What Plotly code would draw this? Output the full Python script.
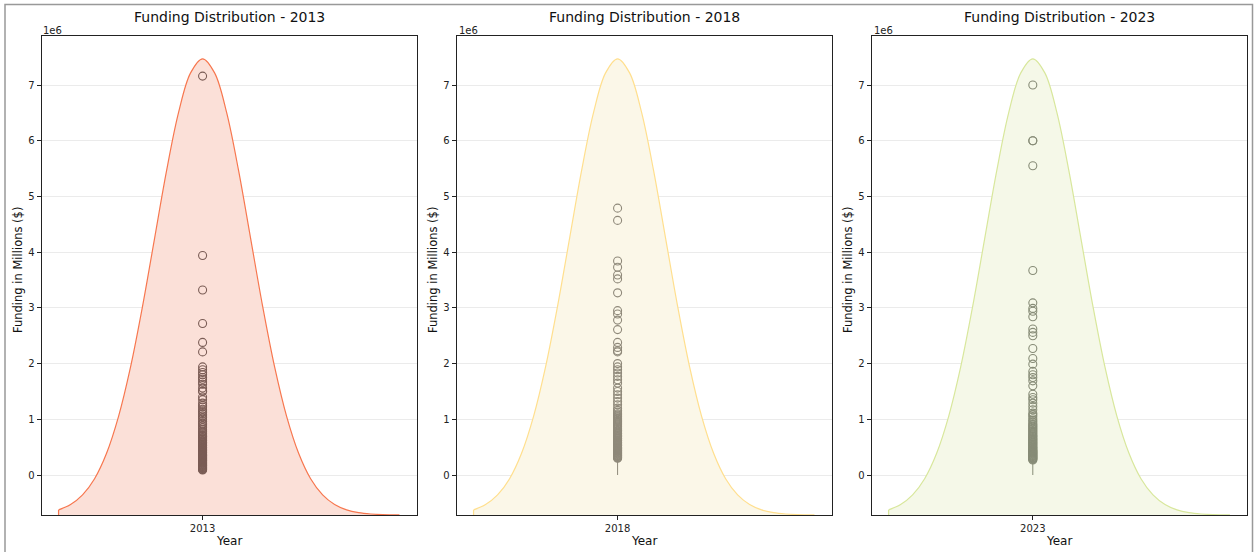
import plotly.graph_objects as go

# ---------------- data ----------------
years = ["2013", "2018", "2023"]

# bell curve (x in curve units, tick at 0; y in $)
curve_x = [-3.0, -2.75, -2.5, -2.25, -2.0, -1.75, -1.5, -1.25, -1.0, -0.75, -0.5, -0.25, 0.0,
           0.25, 0.5, 0.75, 1.0, 1.25, 1.5, 1.75, 2.0, 2.25, 2.5, 2.75, 3.0, 3.25, 3.5, 3.75, 4.1]
curve_y = [-627000, -531000, -358000, -67000, 390000, 1053000, 1940000, 3031000, 4248000,
           5463000, 6508000, 7218000, 7470000, 7218000, 6508000, 5463000, 4248000, 3031000, 1940000,
           1053000, 390000, -67000, -358000, -531000, -627000, -676000, -700000, -711000, -716000]
baseline = -718000

outliers_2013 = [0.09, 0.10, 0.11, 0.12, 0.13, 0.14, 0.15, 0.16, 0.17, 0.18, 0.19, 0.20, 0.21, 0.22,
                 0.23, 0.24, 0.25, 0.26, 0.27, 0.28, 0.29, 0.30, 0.31, 0.32, 0.33, 0.34, 0.35, 0.36,
                 0.37, 0.38, 0.40, 0.41, 0.42, 0.44, 0.45, 0.46, 0.48, 0.49, 0.50, 0.52, 0.53, 0.55,
                 0.56, 0.58, 0.59, 0.61, 0.62, 0.64, 0.65, 0.67, 0.69, 0.70, 0.72, 0.74, 0.77, 0.79,
                 0.82, 0.85, 0.88, 0.91, 0.93, 0.96, 1.00, 1.03, 1.06, 1.09, 1.12, 1.15, 1.18, 1.22,
                 1.25, 1.29, 1.35, 1.40, 1.50, 1.51, 1.56, 1.63, 1.67, 1.72, 1.75, 1.80, 1.84, 1.89,
                 1.94, 2.21, 2.38, 2.72, 3.32, 3.94, 7.16]
outliers_2018 = [0.30, 0.31, 0.32, 0.33, 0.34, 0.35, 0.36, 0.37, 0.38, 0.39, 0.40, 0.41, 0.42, 0.43,
                 0.44, 0.45, 0.46, 0.47, 0.48, 0.49, 0.50, 0.52, 0.53, 0.54, 0.55, 0.57, 0.58, 0.59,
                 0.61, 0.62, 0.63, 0.65, 0.66, 0.68, 0.69, 0.71, 0.72, 0.74, 0.75, 0.77, 0.79, 0.80,
                 0.82, 0.84, 0.86, 0.88, 0.90, 0.92, 0.94, 0.96, 0.98, 1.00, 1.02, 1.04, 1.06, 1.08,
                 1.10, 1.13, 1.16, 1.20, 1.26, 1.32, 1.38, 1.44, 1.50, 1.56, 1.65, 1.71, 1.77, 1.83,
                 1.89, 1.94, 2.00, 2.21, 2.23, 2.29, 2.38, 2.61, 2.78, 2.89, 2.95, 3.27, 3.52, 3.59,
                 3.73, 3.84, 4.57, 4.79]
outliers_2023 = [0.27, 0.28, 0.29, 0.30, 0.31, 0.32, 0.33, 0.34, 0.35, 0.36, 0.37, 0.38, 0.39, 0.40,
                 0.41, 0.42, 0.43, 0.44, 0.45, 0.46, 0.48, 0.49, 0.50, 0.52, 0.53, 0.55, 0.56, 0.58,
                 0.59, 0.61, 0.62, 0.64, 0.65, 0.67, 0.69, 0.70, 0.72, 0.74, 0.76, 0.78, 0.80, 0.82,
                 0.84, 0.86, 0.88, 0.90, 0.92, 0.95, 0.98, 1.01, 1.05, 1.08, 1.11, 1.17, 1.23, 1.29,
                 1.35, 1.39, 1.45, 1.60, 1.69, 1.75, 1.80, 1.86, 1.99, 2.09, 2.27, 2.50, 2.56, 2.62,
                 2.84, 2.94, 2.99, 3.09, 3.67, 5.55, 6.00, 6.00, 7.00]
outliers = [outliers_2013, outliers_2018, outliers_2023]
whisker_low = [0.02, 0.0, 0.0]
whisker_high = [0.09, 0.29, 0.26]

line_colors = ["#F7774F", "#FFDF8E", "#D8E79C"]
fill_colors = ["#FBE0D8", "#FBF7E8", "#F5F8E8"]
marker_colors = ["#7A5C55", "#8F897A", "#878C77"]

y_ticks = [0, 1, 2, 3, 4, 5, 6, 7]
y_tick_text = ["0", "1", "2", "3", "4", "5", "6", "7"]

# ---------------- figure ----------------
W, H = 1255, 552
x_domains = [(41.5, 416.5), (456.5, 831.5), (871.5, 1247.0)]
y_top, y_bot = 36, 515
FONT = "DejaVu Sans"

fig = go.Figure()
annotations = []
for i, yr in enumerate(years):
    sfx = "" if i == 0 else str(i + 1)
    xa, ya = "x" + sfx, "y" + sfx
    # baseline for filling
    fig.add_trace(go.Scatter(x=[curve_x[0], curve_x[-1]], y=[baseline, baseline], mode="lines",
                             line=dict(width=0, color=line_colors[i]), xaxis=xa, yaxis=ya,
                             showlegend=False, hoverinfo="skip"))
    fig.add_trace(go.Scatter(x=curve_x, y=curve_y, mode="lines", fill="tonexty",
                             fillcolor=fill_colors[i],
                             line=dict(color=line_colors[i], width=1.2, shape="spline", smoothing=1.0),
                             xaxis=xa, yaxis=ya, showlegend=False))
    # left edge of the filled area
    fig.add_trace(go.Scatter(x=[curve_x[0], curve_x[0]], y=[baseline, curve_y[0]], mode="lines",
                             line=dict(color=line_colors[i], width=1.2), xaxis=xa, yaxis=ya,
                             showlegend=False, hoverinfo="skip"))
    # whisker
    fig.add_trace(go.Scatter(x=[0, 0], y=[whisker_low[i] * 1e6, whisker_high[i] * 1e6], mode="lines",
                             line=dict(color=marker_colors[i], width=1), xaxis=xa, yaxis=ya,
                             showlegend=False))
    # outliers
    fig.add_trace(go.Scatter(x=[0] * len(outliers[i]), y=[v * 1e6 for v in outliers[i]], mode="markers",
                             marker=dict(symbol="circle-open", size=8, color=marker_colors[i],
                                         line=dict(width=1.1, color=marker_colors[i])),
                             xaxis=xa, yaxis=ya, showlegend=False))

    d0, d1 = x_domains[i]
    fig.layout["xaxis" + sfx] = dict(
        domain=[d0 / W, d1 / W], anchor=ya, range=[-3.355, 4.455],
        tickvals=[0], ticktext=[yr], ticks="outside", ticklen=4, tickcolor="#222",
        showgrid=False, zeroline=False, showline=True, linecolor="#222", linewidth=1, mirror=True,
        tickfont=dict(family=FONT, size=10, color="#222"), automargin=False)
    fig.layout["yaxis" + sfx] = dict(
        domain=[1 - y_bot / H, 1 - y_top / H], anchor=xa, range=[-718000, 7880000],
        tickvals=[v * 1e6 for v in y_ticks], ticktext=y_tick_text, ticks="outside", ticklen=4,
        tickcolor="#222", showgrid=True, gridcolor="#EBEBEB", gridwidth=1, zeroline=False,
        showline=True, linecolor="#222", linewidth=1, mirror=True,
        tickfont=dict(family=FONT, size=10, color="#222"), automargin=False)

    cx = (d0 + d1) / 2 / W
    annotations.append(dict(text=f"Funding Distribution - {yr}", x=cx, y=1 - 17 / H, xref="paper",
                            yref="paper", showarrow=False, xanchor="center", yanchor="middle",
                            font=dict(family=FONT, size=14, color="#111")))
    annotations.append(dict(text="Year", x=cx, y=1 - 541 / H, xref="paper", yref="paper",
                            showarrow=False, xanchor="center", yanchor="middle",
                            font=dict(family=FONT, size=12, color="#111")))
    annotations.append(dict(text="Funding in Millions ($)", x=(d0 - 23.5) / W, y=1 - 270 / H,
                            xref="paper", yref="paper", showarrow=False, textangle=-90,
                            xanchor="center", yanchor="middle",
                            font=dict(family=FONT, size=11.5, color="#111")))
    annotations.append(dict(text="1e6", x=d0 / W, y=1 - 30 / H, xref="paper", yref="paper",
                            showarrow=False, xanchor="left", yanchor="middle",
                            font=dict(family=FONT, size=10, color="#222")))

fig.update_layout(
    width=W, height=H, margin=dict(l=0, r=0, t=0, b=0),
    paper_bgcolor="white", plot_bgcolor="white", showlegend=False,
    annotations=annotations,
    shapes=[dict(type="rect", xref="paper", yref="paper", x0=5 / W, x1=1252.5 / W,
                 y0=-0.01, y1=1 - 4.5 / H, line=dict(color="#999", width=1.5),
                 fillcolor="rgba(0,0,0,0)", layer="below")],
)

fig.write_html("out.html")
